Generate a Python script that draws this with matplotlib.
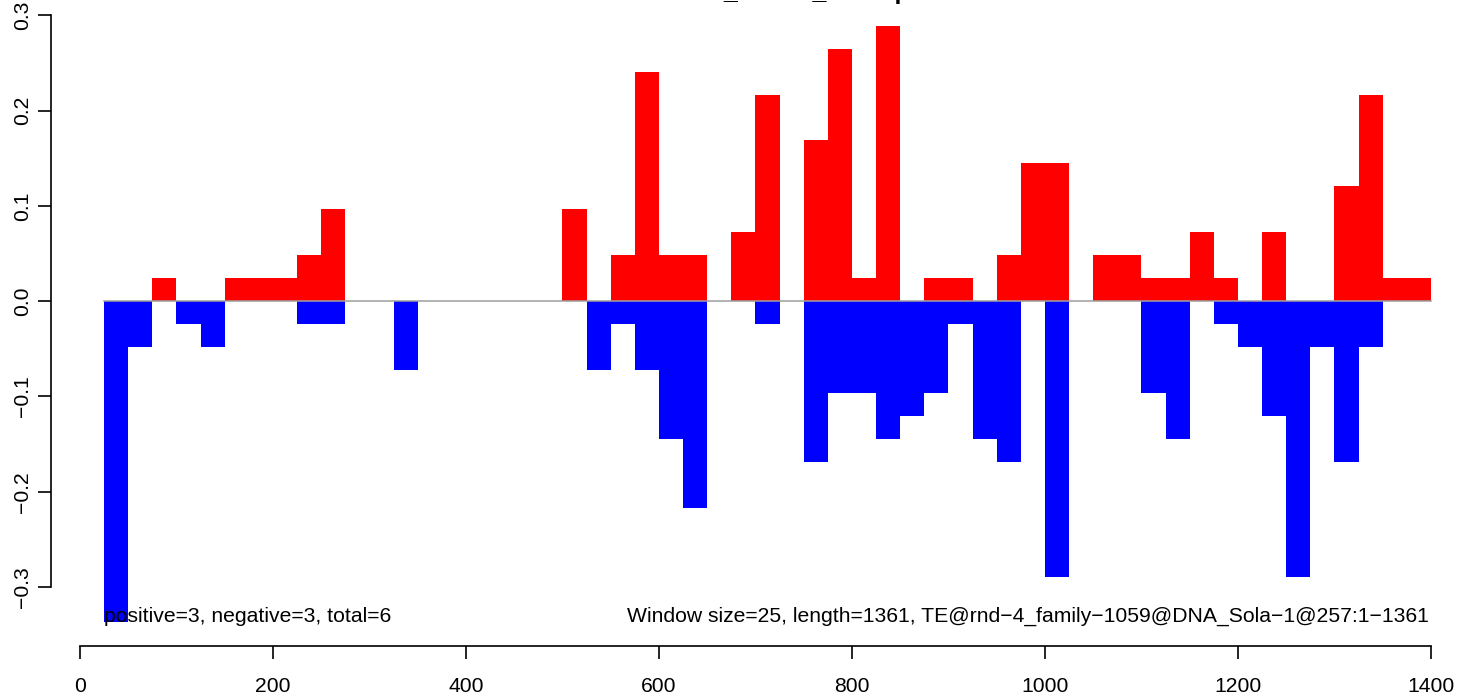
import matplotlib
matplotlib.use("Agg")
from matplotlib import pyplot as plt

# bin start positions (window size 25)
bin_starts = list(range(25, 1400, 25))
win = 25

# positive (red) values per window
pos = [0, 0, 0.0241, 0, 0, 0.0241, 0.0241, 0.0241, 0.0482, 0.0964,
       0, 0, 0, 0, 0, 0, 0, 0, 0, 0.0964,
       0, 0.0482, 0.2410, 0.0482, 0.0482, 0, 0.0723, 0.2169, 0, 0.1687,
       0.2651, 0.0241, 0.2892, 0, 0.0241, 0.0241, 0, 0.0482, 0.1446, 0.1446,
       0, 0.0482, 0.0482, 0.0241, 0.0241, 0.0723, 0.0241, 0, 0.0723, 0,
       0, 0.1205, 0.2169, 0.0241, 0.0241]

# negative (blue) values per window
neg = [-0.3373, -0.0482, 0, -0.0241, -0.0482, 0, 0, 0, -0.0241, -0.0241,
       0, 0, -0.0723, 0, 0, 0, 0, 0, 0, 0,
       -0.0723, -0.0241, -0.0723, -0.1446, -0.2169, 0, 0, -0.0241, 0, -0.1687,
       -0.0964, -0.0964, -0.1446, -0.1205, -0.0964, -0.0241, -0.1446, -0.1687, 0, -0.2892,
       0, 0, 0, -0.0964, -0.1446, 0, -0.0241, -0.0482, -0.1205, -0.2892,
       -0.0482, -0.1687, -0.0482, 0, 0]

x_ticks = [0, 200, 400, 600, 800, 1000, 1200, 1400]
y_ticks = [-0.3, -0.2, -0.1, 0.0, 0.1, 0.2, 0.3]

# title is cut off at the top in the original, only its lowest bits show
title = "Normalized_siRNA_TE copies"
left_note = "positive=3, negative=3, total=6"
right_note = "Window size=25, length=1361, TE@rnd\u22124_family\u22121059@DNA_Sola\u22121@257:1\u22121361"

plt.rcParams["font.family"] = ["Liberation Sans", "DejaVu Sans"]

fig = plt.figure(figsize=(14.72, 6.94), dpi=100)
W, H = 1472, 694
ax = fig.add_axes([51 / W, 48 / H, 1433 / W, 644 / H])

ax.bar(bin_starts, pos, width=win, align="edge", color="#FF0000", linewidth=0)
ax.bar(bin_starts, neg, width=win, align="edge", color="#0000FF", linewidth=0)
ax.plot([bin_starts[0], bin_starts[-1] + win], [0, 0], color="#9E9E9E", lw=1.1)

ax.set_xlim(-30, 1455)
ax.set_ylim(-0.362, 0.314)

for s in ["top", "right"]:
    ax.spines[s].set_visible(False)
ax.spines["left"].set_bounds(-0.3, 0.3)
ax.spines["bottom"].set_bounds(0, 1400)
for s in ["left", "bottom"]:
    ax.spines[s].set_linewidth(1.2)

ax.set_xticks(x_ticks)
ax.set_xticklabels([str(v) for v in x_ticks])
ax.set_yticks(y_ticks)
ax.set_yticklabels(["%.1f" % v if v >= 0 else "\u2212%.1f" % -v for v in y_ticks])
ax.tick_params(axis="x", length=9.4, width=1.2, pad=13, labelsize=15.2)
ax.tick_params(axis="y", length=9.4, width=1.2, pad=4, labelsize=15.2)
for lab in ax.get_yticklabels():
    lab.set_rotation(90)
    lab.set_va("center")

ax.text(25, -0.337, left_note, ha="left", va="baseline", fontsize=15.2)
ax.text(1398, -0.337, right_note, ha="right", va="baseline", fontsize=15.2)

fig.text(767 / W, 1 + 1.4 / H, title, ha="center", va="baseline",
         fontsize=18, fontweight="bold")

fig.savefig("out.png", dpi=100)
